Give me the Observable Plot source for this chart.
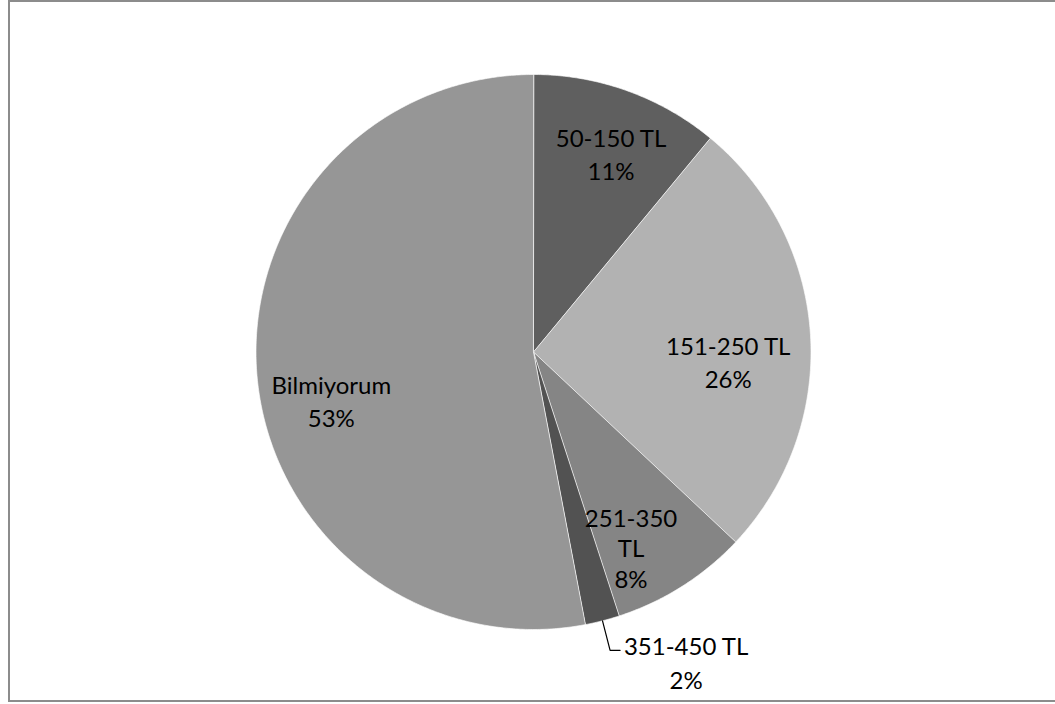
<!DOCTYPE html>
<html>
<head>
<meta charset="utf-8">
<script src="https://cdn.jsdelivr.net/npm/d3@7"></script>
<script src="https://cdn.jsdelivr.net/npm/@observablehq/plot@0.6"></script>
<style>
  html, body { margin: 0; padding: 0; background: #fff; }
  #wrap { position: relative; width: 1055px; height: 704px; overflow: hidden; }
  #frame { position: absolute; left: 8px; top: 0; width: 1060px; height: 698px; border: 2px solid #8c8c8c; box-sizing: content-box; pointer-events: none; }
  svg { display: block; }
</style>
</head>
<body>
<div id="wrap"><div id="frame"></div></div>
<script>
// Aylık harcama dağılımı (yüzde)
const categories = ["50-150 TL", "151-250 TL", "251-350 TL", "351-450 TL", "Bilmiyorum"];
const shares = [11, 26, 8, 2, 53];
const shades = ["#5f5f5f", "#b2b2b2", "#858585", "#525252", "#969696"];
const labelText = ["50-150 TL", "151-250 TL", "251-350\nTL", "351-450 TL", "Bilmiyorum"];

// pie geometry in pixels
const W = 1055, H = 704;
const cx = 533, cy = 351.5, R = 277.5;

// layout tweaks for the data labels (pixels)
const labelNudge = {
  "50-150 TL": [7, -3],
  "151-250 TL": [-13, 22],
  "251-350 TL": [-14, 20],
  "Bilmiyorum": [5, 28]
};
const outside = "351-450 TL";

const total = d3.sum(shares);
let acc = 0;
const slices = categories.map((c, i) => {
  const a0 = acc / total * 360;
  acc += shares[i];
  const a1 = acc / total * 360;
  return {category: c, share: shares[i], fill: shades[i], label: labelText[i], a0, a1, mid: (a0 + a1) / 2};
});

const rad = (deg) => deg * Math.PI / 180;
const px = (r, deg) => r * Math.sin(rad(deg));
const py = (r, deg) => r * Math.cos(rad(deg));

// polygon outline of each wedge
function wedge(s) {
  const pts = [{x: 0, y: 0}];
  const n = Math.max(2, Math.ceil((s.a1 - s.a0) / 0.5));
  for (let k = 0; k <= n; k++) {
    const a = s.a0 + (s.a1 - s.a0) * k / n;
    pts.push({x: px(1, a), y: py(1, a)});
  }
  return pts;
}

const marks = [];
for (const s of slices) {
  marks.push(Plot.line(wedge(s), {
    x: "x", y: "y", curve: "linear-closed",
    fill: s.fill, stroke: "#ffffff", strokeWidth: 0.8, strokeOpacity: 0.8
  }));
}

const fontStyle = {fontFamily: "Lato, 'Open Sans', sans-serif", fontSize: 24, fill: "#000"};

for (const s of slices) {
  const text = `${s.label}\n${s.share}%`;
  const lineHeight = s.label.includes("\n") ? 1.27 : 1.38;
  if (s.category === outside) {
    // leader line from the wedge edge down to the label
    const ex = px(1, s.mid), ey = py(1, s.mid);
    const kx = px(1.11, s.mid), ky = py(1.11, s.mid);
    const hx = kx + 10 / R;
    marks.push(Plot.line([{x: ex, y: ey}, {x: kx, y: ky}, {x: hx, y: ky}], {
      x: "x", y: "y", stroke: "#000", strokeWidth: 1.2
    }));
    marks.push(Plot.text([{x: hx, y: ky, t: text}], {
      x: "x", y: "y", text: "t", dx: 66, dy: 11, lineHeight, ...fontStyle
    }));
  } else {
    const [nx, ny] = labelNudge[s.category] || [0, 0];
    marks.push(Plot.text([{x: px(0.75, s.mid), y: py(0.75, s.mid), t: text}], {
      x: "x", y: "y", text: "t", dx: nx, dy: ny, lineHeight, ...fontStyle
    }));
  }
}

const chart = Plot.plot({
  width: W,
  height: H,
  marginLeft: cx - R,
  marginRight: W - (cx + R),
  marginTop: cy - R,
  marginBottom: H - (cy + R),
  x: {domain: [-1, 1], axis: null},
  y: {domain: [-1, 1], axis: null},
  style: {background: "transparent"},
  marks
});

document.getElementById("wrap").prepend(chart);
</script>
</body>
</html>
